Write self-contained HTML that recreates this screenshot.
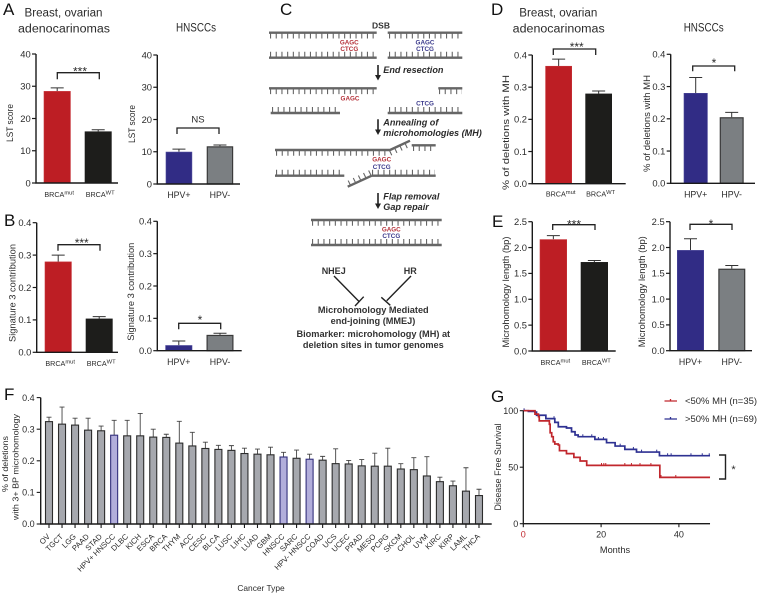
<!DOCTYPE html>
<html>
<head>
<meta charset="utf-8">
<title>Microhomology figure</title>
<style>
html,body{margin:0;padding:0;background:#fff;width:757px;height:593px;overflow:hidden}
svg{display:block;position:absolute;left:0;top:0}
text{font-family:"Liberation Sans",sans-serif;fill:#2b2b2b}
.pl{font-size:17px;fill:#111}
.c{font-weight:bold;fill:#333}
.ci{font-weight:bold;font-style:italic;font-size:9.1px;fill:#2a2a2a}
.dna{stroke:#666;stroke-width:2.4;fill:none}
.teeth{stroke:#666;stroke-width:6;stroke-dasharray:1.1 4.6;fill:none}
.r{fill:#b5323a;font-size:6.3px;font-weight:bold;text-anchor:middle}
.b{fill:#3b3a8c;font-size:6.3px;font-weight:bold;text-anchor:middle}
</style>
</head>
<body>
<svg id="fig" xmlns="http://www.w3.org/2000/svg" width="757" height="593" viewBox="0 0 757 593">
  <g>
    <text class="pl" x="3" y="15">A</text>
    <text class="pl" x="4" y="226">B</text>
    <text class="pl" x="280" y="15">C</text>
    <text class="pl" x="491" y="15">D</text>
    <text class="pl" x="492" y="227">E</text>
    <text class="pl" x="4" y="400">F</text>
    <text class="pl" x="491" y="402">G</text>
  </g>
  <g text-anchor="middle" font-size="11.5">
    <text x="63.5" y="16.7" textLength="78" lengthAdjust="spacingAndGlyphs">Breast, ovarian</text>
    <text x="64" y="32.3" textLength="92" lengthAdjust="spacingAndGlyphs">adenocarinomas</text>
    <text x="196" y="31.7" textLength="40" lengthAdjust="spacingAndGlyphs">HNSCCs</text>
    <text x="558.3" y="16.7" textLength="78" lengthAdjust="spacingAndGlyphs">Breast, ovarian</text>
    <text x="558.7" y="32.3" textLength="92" lengthAdjust="spacingAndGlyphs">adenocarinomas</text>
    <text x="703.7" y="31.7" textLength="40" lengthAdjust="spacingAndGlyphs">HNSCCs</text>
  </g>

  <g>
    <text class="c" x="381" y="28.3" font-size="8.5" text-anchor="middle">DSB</text>
    <g>
      <path class="teeth" d="M270 35.5H376M389 35.5H462M270 54.7H376M389 54.7H462"/>
      <path class="dna" d="M269 32.7H376.7M387.7 32.7H462.3M269 57.7H376.7M387.7 57.7H462.3"/>
    </g>
    <text class="r" x="349.3" y="44.5">GAGC</text>
    <text class="r" x="349.3" y="51">CTCG</text>
    <text class="b" x="425" y="44.5">GAGC</text>
    <text class="b" x="425" y="51">CTCG</text>
    <g>
      <path class="teeth" d="M270 91.1H376M439 91.1H462M272 110H339M389 110H462"/>
      <path class="dna" d="M269 88.3H376.7M438.3 88.3H462.3M270.7 113H340M387.7 113H462.3"/>
    </g>
    <text class="r" x="350" y="100.5">GAGC</text>
    <text class="b" x="425" y="105.5">CTCG</text>
    <g>
      <path class="teeth" d="M276 152.8H390L409 144M413 148H435M276 172.7H344M372 172.7H435M349 183.5L371 172.7"/>
      <path class="dna" d="M275 150H390L410 140.7M411.7 145.3H435.7M275 175.7H344.3M371.7 175.7H435.7M371.7 175.7L347.7 186.7"/>
    </g>
    <text class="r" x="381.7" y="161.5">GAGC</text>
    <text class="b" x="381.7" y="169">CTCG</text>
    <g>
      <path class="teeth" d="M312 222.8H441M312 242H441"/>
      <path class="dna" d="M311 220H441.7M311 245H441.7"/>
    </g>
    <text class="r" x="391.3" y="231.5">GAGC</text>
    <text class="b" x="391.3" y="238">CTCG</text>
    <g fill="#222" stroke="none">
      <path d="M377.2 65H378.8V75H381L378 80.5L375 75H377.2Z"/>
      <path d="M377.2 119.3H378.8V129.5H381L378 135L375 129.5H377.2Z"/>
      <path d="M377.2 193H378.8V203.5H381L378 209L375 203.5H377.2Z"/>
    </g>
    <text class="ci" x="383.3" y="73">End resection</text>
    <text class="ci" x="383.3" y="125.5">Annealing of</text>
    <text class="ci" x="383.3" y="136">microhomologies (MH)</text>
    <text class="ci" x="383.3" y="199.5">Flap removal</text>
    <text class="ci" x="383.3" y="210">Gap repair</text>
    <text class="c" x="333.7" y="274" font-size="9" text-anchor="middle">NHEJ</text>
    <text class="c" x="410.3" y="274" font-size="9" text-anchor="middle">HR</text>
    <path d="M334 276L359 301.5M355 306L363.7 296.7" stroke="#222" stroke-width="1.4" fill="none"/>
    <path d="M411 276L386.7 300.7M381.3 297.3L390.3 305.3" stroke="#222" stroke-width="1.4" fill="none"/>
    <g class="c" font-size="9.2" text-anchor="middle">
      <text class="c" x="373.3" y="313">Microhomology Mediated</text>
      <text class="c" x="373" y="324">end-joining (MMEJ)</text>
      <text class="c" x="373.3" y="337">Biomarker: microhomology (MH) at</text>
      <text class="c" x="373.3" y="348">deletion sites in tumor genomes</text>
    </g>
  </g>
  <g id="charts"></g>
</svg>

<script>
// ---- bar panel data ----
const brcaCategories = ['BRCA', 'BRCA'];
const brcaSuper = ['mut', 'WT'];
const hpvCategories = ['HPV+', 'HPV-'];
const lstTicks = [0, 10, 20, 30, 40];
const sigTicks = ['0.0', '0.1', '0.2', '0.3', '0.4'];
const pctTicks = ['0.0', '0.1', '0.2', '0.3', '0.4'];
const lenTicks = ['0.0', '0.5', '1.0', '1.5', '2.0', '2.5'];
const lstBrcaValues = [28.5, 16];
const lstBrcaErrors = [1.0, 0.5];
const lstHpvValues = [10, 11.7];
const lstHpvErrors = [0.8, 0.4];
const sigBrcaValues = [0.28, 0.104];
const sigBrcaErrors = [0.02, 0.006];
const sigHpvValues = [0.017, 0.049];
const sigHpvErrors = [0.013, 0.005];
const pctBrcaValues = [0.366, 0.28];
const pctBrcaErrors = [0.021, 0.008];
const pctHpvValues = [0.28, 0.205];
const pctHpvErrors = [0.048, 0.015];
const lenBrcaValues = [2.16, 1.72];
const lenBrcaErrors = [0.07, 0.03];
const lenHpvValues = [1.95, 1.59];
const lenHpvErrors = [0.22, 0.06];

// ---- pan-cancer data ----
const cancerTypes = ['OV','TGCT','LGG','PAAD','STAD','HPV+ HNSCC','DLBC','KICH','ESCA','BRCA','THYM','ACC','CESC','BLCA','LUSC','LIHC','LUAD','GBM','HNSCC','SARC','HPV- HNSCC','COAD','UCS','UCEC','PRAD','MESO','PCPG','SKCM','CHOL','UVM','KIRC','KIRP','LAML','THCA'];
const cancerValues = [0.324,0.316,0.313,0.297,0.295,0.281,0.279,0.279,0.275,0.274,0.256,0.247,0.239,0.236,0.233,0.223,0.221,0.219,0.212,0.208,0.205,0.202,0.191,0.190,0.184,0.183,0.183,0.174,0.172,0.152,0.134,0.121,0.104,0.090];
const cancerErrors = [0.014,0.054,0.022,0.038,0.015,0.047,0.049,0.071,0.025,0.010,0.069,0.043,0.020,0.013,0.015,0.017,0.016,0.024,0.015,0.026,0.016,0.012,0.047,0.011,0.020,0.041,0.057,0.017,0.038,0.061,0.014,0.015,0.074,0.020];
const highlightedTypes = ['HPV+ HNSCC', 'HNSCC', 'HPV- HNSCC'];
const cancerTicks = ['0.0', '0.1', '0.2', '0.3', '0.4'];

// ---- survival data ----
const redMonths = [0,3,3.9,4.1,5.6,6.7,6.9,7.3,7.7,8.1,9,9.3,11.1,13,14.6,16.3,35.1];
const redSurvival = [100,97,94.7,91,91,88,80.5,77,72.5,70.5,69.6,64.6,62,58.7,55.5,51.6,41];
const blueMonths = [0,1.3,3,3.4,5.8,8.1,9,11.1,12.4,13.3,14.1,18.4,21.4,23.6,26.1,29.1,35];
const blueSurvival = [100,99.4,98.8,96,93,89.7,85.8,84.7,81.4,78.5,77,74.6,71.7,68.7,65.8,63.4,60.2];
const redCensored = [20.1,20.7,21.2,26.1,27.8,30,32.8,35.4,39.2];
const blueCensored = [0.2,7.9,15.3,17.6,19.3,20.6,24.9,28.3,30.4,34.3,37.1,38,43.1,46,47.8];
const survivalTicks = [0, 50, 100];
const monthTicks = [0, 20, 40];
const survivalMaxMonth = 48;

const NS = 'http://www.w3.org/2000/svg';
const root = document.getElementById('charts');

function mk(tag, parent, attrs) {
  const el = document.createElementNS(NS, tag);
  for (const k in attrs) el.setAttribute(k, attrs[k]);
  parent.appendChild(el);
  return el;
}
function txt(parent, x, y, str, size, anchor, rot, len) {
  const attrs = { x: x, y: y, 'font-size': size, 'text-anchor': anchor || 'start' };
  if (rot) attrs.transform = 'rotate(' + rot + ' ' + x + ' ' + y + ')';
  if (len) { attrs.textLength = len; attrs.lengthAdjust = 'spacingAndGlyphs'; }
  const t = mk('text', parent, attrs);
  t.textContent = str;
  return t;
}

function barPanel(name, cfg, categories, sup, ticks, values, errors, colors) {
  const g = mk('g', root, {});
  
  
  const yMax = Number(ticks[ticks.length - 1]);
  const yScale = v => cfg.y0 - (v / yMax) * (cfg.y0 - cfg.yTop);
  const xLeft = i => cfg.bar0 + i * cfg.step;

  values.forEach((v, i) => {
    const cx = xLeft(i) + cfg.barW / 2;
    const top = yScale(v + errors[i]);
    const eb = mk('path', g, { d: 'M' + cx + ' ' + yScale(v) + 'V' + top + 'M' + (cx - 6.5) + ' ' + top + 'H' + (cx + 6.5), stroke: '#333', 'stroke-width': 1, fill: 'none' });
    
    
    const c = colors[i];
    const r = mk('rect', g, { x: xLeft(i) + c.sw / 2, y: yScale(v) + c.sw / 2, width: cfg.barW - c.sw, height: cfg.y0 - yScale(v) - c.sw / 2, fill: c.fill, stroke: c.stroke, 'stroke-width': c.sw });
    
    
    const lab = txt(g, cx + (sup ? 2 : 0), cfg.labelY, categories[i], sup ? 7.2 : 8.8, 'middle');
    
    
    if (sup) {
      const s = mk('tspan', lab, { dy: -2.5, 'font-size': 5.8 });
      s.textContent = sup[i];
    }
  });

  const ax = mk('path', g, { d: 'M' + cfg.axisX + ' ' + cfg.yTop + 'V' + cfg.y0 + 'H' + cfg.xEnd, stroke: '#1a1a1a', 'stroke-width': 1.4, fill: 'none' });
  
  

  ticks.forEach(t => {
    const y = yScale(Number(t));
    const tk = mk('line', g, { x1: cfg.axisX - 4, x2: cfg.axisX, y1: y, y2: y, stroke: '#1a1a1a', 'stroke-width': 1.2 });
    
    
    const tl = txt(g, cfg.axisX - 5.3, y + 3.3, String(t), 9.4, 'end');
    
    
  });

  const yl = txt(g, cfg.titleX, cfg.titleY, cfg.title, 9, 'middle', -90, cfg.titleLen);
  
  

  const bracket = mk('path', g, { d: 'M' + cfg.bx1 + ' ' + cfg.bBot + 'V' + cfg.bTop + 'H' + cfg.bx2 + 'V' + cfg.bBot, stroke: '#222', 'stroke-width': 1.3, fill: 'none' });
  
  
  const sig = txt(g, cfg.sx, cfg.sy, cfg.sig, cfg.sig === 'NS' ? 9.5 : 12, 'middle');
  
  
}

const RED = { fill: '#bd1e24', stroke: '#c7343a', sw: 0.6 };
const BLACK = { fill: '#1d1d1b', stroke: '#1d1d1b', sw: 0.6 };
const BLUE = { fill: '#312c85', stroke: '#4a4799', sw: 0.6 };
const GRAY = { fill: '#7b7f82', stroke: '#3a3a3a', sw: 1.2 };

barPanel('lst-brca-chart',
  { axisX: 36, y0: 183, yTop: 54, xEnd: 118, bar0: 43.7, barW: 27, step: 41, labelY: 197, title: 'LST score', titleX: 13, titleY: 123, titleLen: 38, bx1: 57.3, bx2: 99.3, bTop: 72.7, bBot: 79.3, sx: 80, sy: 75.3, sig: '***' },
  brcaCategories, brcaSuper, lstTicks, lstBrcaValues, lstBrcaErrors, [RED, BLACK]);
barPanel('lst-hpv-chart',
  { axisX: 157.3, y0: 184, yTop: 55, xEnd: 240, bar0: 165.7, barW: 26.5, step: 41, labelY: 198, title: 'LST score', titleX: 135, titleY: 124, titleLen: 38, bx1: 177, bx2: 219, bTop: 128, bBot: 134, sx: 198, sy: 122.7, sig: 'NS' },
  hpvCategories, null, lstTicks, lstHpvValues, lstHpvErrors, [BLUE, GRAY]);
barPanel('signature3-brca-chart',
  { axisX: 36.7, y0: 352.3, yTop: 222.7, xEnd: 118, bar0: 44.7, barW: 27, step: 41, labelY: 366, title: 'Signature 3 contribution', titleX: 15.5, titleY: 293, titleLen: 98, bx1: 58, bx2: 100, bTop: 244.7, bBot: 250.7, sx: 81.7, sy: 247, sig: '***' },
  brcaCategories, brcaSuper, sigTicks, sigBrcaValues, sigBrcaErrors, [RED, BLACK]);
barPanel('signature3-hpv-chart',
  { axisX: 157.3, y0: 350.7, yTop: 221.3, xEnd: 241.7, bar0: 165.3, barW: 27, step: 41.2, labelY: 365, title: 'Signature 3 contribution', titleX: 134, titleY: 291.7, titleLen: 98, bx1: 178.7, bx2: 220.7, bTop: 323.3, bBot: 329.3, sx: 200, sy: 324, sig: '*' },
  hpvCategories, null, sigTicks, sigHpvValues, sigHpvErrors, [BLUE, GRAY]);
barPanel('deletions-brca-chart',
  { axisX: 532.3, y0: 183.7, yTop: 55, xEnd: 625.7, bar0: 545.3, barW: 26.7, step: 40, labelY: 196.7, title: '% of deletions with MH', titleX: 509, titleY: 132.5, titleLen: 115, bx1: 553.3, bx2: 595.7, bTop: 49, bBot: 55, sx: 576.7, sy: 51, sig: '***' },
  brcaCategories, brcaSuper, pctTicks, pctBrcaValues, pctBrcaErrors, [RED, BLACK]);
barPanel('deletions-hpv-chart',
  { axisX: 670.7, y0: 183.3, yTop: 54.3, xEnd: 755, bar0: 683.7, barW: 24, step: 36, labelY: 197.3, title: '% of deletions with MH', titleX: 650, titleY: 123.5, titleLen: 97, bx1: 692.7, bx2: 734.7, bTop: 66, bBot: 71.3, sx: 714, sy: 67, sig: '*' },
  hpvCategories, null, pctTicks, pctHpvValues, pctHpvErrors, [BLUE, GRAY]);
barPanel('length-brca-chart',
  { axisX: 532.3, y0: 351, yTop: 221.7, xEnd: 615.7, bar0: 539.7, barW: 27.3, step: 41, labelY: 365, title: 'Microhomology length (bp)', titleX: 509, titleY: 292, titleLen: 111, bx1: 552.7, bx2: 595, bTop: 224.7, bBot: 230, sx: 574, sy: 228.7, sig: '***' },
  brcaCategories, brcaSuper, lenTicks, lenBrcaValues, lenBrcaErrors, [RED, BLACK]);
barPanel('length-hpv-chart',
  { axisX: 670, y0: 350.7, yTop: 221.7, xEnd: 752, bar0: 677, barW: 27, step: 41.3, labelY: 365, title: 'Microhomology length (bp)', titleX: 645, titleY: 291.7, titleLen: 111, bx1: 690, bx2: 732, bTop: 224.3, bBot: 230, sx: 711, sy: 228, sig: '*' },
  hpvCategories, null, lenTicks, lenHpvValues, lenHpvErrors, [BLUE, GRAY]);

// ---- panel F ----
(function () {
  const g = mk('g', root, {});
  
  
  const axisX = 40.7, y0 = 524, perUnit = 316, x0 = 49, step = 13.03, barW = 8;
  const yScale = v => y0 - v * perUnit;
  const xScale = i => x0 + i * step;
  cancerTypes.forEach((name, i) => {
    const cx = xScale(i);
    const v = cancerValues[i];
    const top = yScale(v + cancerErrors[i]);
    const hi = highlightedTypes.indexOf(name) >= 0;
    const eb = mk('path', g, { d: 'M' + cx + ' ' + yScale(v) + 'V' + top + 'M' + (cx - 2.5) + ' ' + top + 'H' + (cx + 2.5), stroke: '#444', 'stroke-width': 0.9, fill: 'none' });
    
    
    const r = mk('rect', g, { x: cx - barW / 2 + 0.5, y: yScale(v), width: barW - 1, height: y0 - yScale(v), fill: hi ? '#b2aedb' : '#a6a8ae', stroke: hi ? '#33307c' : '#2c2c2c', 'stroke-width': 1.1 });
    
    
    const tk = mk('line', g, { x1: cx, x2: cx, y1: y0, y2: y0 + 4, stroke: '#1a1a1a', 'stroke-width': 1.1 });
    
    
    const lb = txt(g, cx + 1.5, 537, name, 7.7, 'end', -45);
    
    
  });
  const ax = mk('path', g, { d: 'M' + axisX + ' ' + yScale(0.4) + 'V' + y0 + 'H491.7', stroke: '#1a1a1a', 'stroke-width': 1.4, fill: 'none' });
  
  
  cancerTicks.forEach(t => {
    const y = yScale(Number(t));
    const tk = mk('line', g, { x1: axisX - 4, x2: axisX, y1: y, y2: y, stroke: '#1a1a1a', 'stroke-width': 1.1 });
    
    
    const tl = txt(g, axisX - 6, y + 3.2, t, 9, 'end');
    
    
  });
  const t1 = txt(g, 8, 464, '% of deletions', 8.6, 'middle', -90, 56);
  
  
  const t2 = txt(g, 18.5, 467, 'with 3+ BP microhomology', 8.6, 'middle', -90, 106);
  
  
  const xt = txt(g, 261, 591, 'Cancer Type', 8.4, 'middle');
  
  
})();

// ---- panel G ----
(function () {
  const g = mk('g', root, {});
  
  
  const x0 = 523.3, y0 = 523.7;
  const xScale = m => x0 + m * 3.89;
  const yScale = s => y0 - s * 1.13;
  const curvePath = (ms, ss) => {
    let d = 'M' + xScale(ms[0]) + ' ' + yScale(ss[0]);
    for (let i = 1; i < ms.length; i++) d += 'H' + xScale(ms[i]) + 'V' + yScale(ss[i]);
    return d + 'H' + xScale(survivalMaxMonth);
  };
  const at = (ms, ss, m) => {
    let s = ss[0];
    for (let i = 0; i < ms.length; i++) if (ms[i] <= m) s = ss[i];
    return s;
  };
  const drawCurve = (ms, ss, cens, color, name) => {
    const p = mk('path', g, { d: curvePath(ms, ss), stroke: color, 'stroke-width': 1.7, fill: 'none' });
    
    
    cens.forEach(m => {
      const y = yScale(at(ms, ss, m));
      const c = mk('line', g, { x1: xScale(m), x2: xScale(m), y1: y - 2.4, y2: y + 0.5, stroke: color, 'stroke-width': 1 });
      
      
    });
  };
  drawCurve(blueMonths, blueSurvival, blueCensored, '#2e3192', 'over-50-mh');
  drawCurve(redMonths, redSurvival, redCensored, '#c1272d', 'under-50-mh');

  const ax = mk('path', g, { d: 'M' + x0 + ' ' + yScale(100) + 'V' + y0 + 'H' + xScale(survivalMaxMonth), stroke: '#1a1a1a', 'stroke-width': 1.3, fill: 'none' });
  
  
  survivalTicks.forEach(t => {
    const y = yScale(t);
    const tk = mk('line', g, { x1: x0 - 3.5, x2: x0, y1: y, y2: y, stroke: '#1a1a1a', 'stroke-width': 1.1 });
    
    
    const tl = txt(g, x0 - 5, y + 3.2, String(t), 9, 'end');
    
    
  });
  monthTicks.forEach(t => {
    const x = xScale(t);
    const tk = mk('line', g, { x1: x, x2: x, y1: y0, y2: y0 + 3.5, stroke: '#1a1a1a', 'stroke-width': 1.1 });
    
    
    const tl = txt(g, x, 537.3, String(t), 9, 'middle');
    
    
    if (t === 0) tl.style.fill = '#c1272d';
  });
  const xt = txt(g, 615, 553, 'Months', 9.2, 'middle');
  
  
  const yt = txt(g, 501, 467, 'Disease Free Survival', 9, 'middle', -90, 87);
  
  

  const le1 = mk('path', g, { d: 'M664.5 401H677M670.5 399V401', stroke: '#c1272d', 'stroke-width': 1.3, fill: 'none' });
  
  
  const lt1 = txt(g, 685, 404, '<50% MH (n=35)', 8.8, 'start', 0, 72);
  
  
  const le2 = mk('path', g, { d: 'M664.5 419H677M670.5 417V419', stroke: '#2e3192', 'stroke-width': 1.3, fill: 'none' });
  
  
  const lt2 = txt(g, 685, 422, '>50% MH (n=69)', 8.8, 'start', 0, 72);
  
  

  const br = mk('path', g, { d: 'M719 455H725.5V479H719', stroke: '#222', 'stroke-width': 1.4, fill: 'none' });
  
  
  const st = txt(g, 733.5, 473, '*', 11, 'middle');
  
  
})();
</script>
</body>
</html>
